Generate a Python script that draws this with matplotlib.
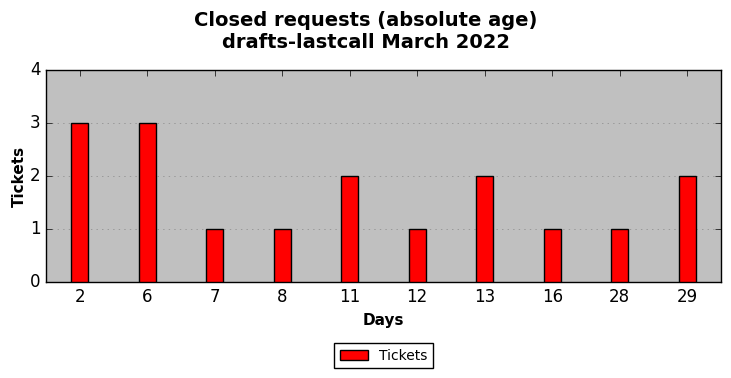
import matplotlib
matplotlib.use("Agg")
import matplotlib.pyplot as plt
import numpy as np

days = ["2", "6", "7", "8", "11", "12", "13", "16", "28", "29"]
tickets = [3, 3, 1, 1, 2, 1, 2, 1, 1, 2]

plt.style.use("classic")
fig = plt.figure(figsize=(7.31, 3.78), dpi=100)
ax = fig.add_axes([46/731, 1-282/378, (721-46)/731, (282-70)/378])
x = np.arange(len(days))
ax.bar(x, tickets, width=0.25, color="red", edgecolor="black", align="center", label="Tickets", zorder=3)
ax.set_facecolor("#c0c0c0")
ax.set_xlim(-0.5, len(days)-0.5)
ax.set_ylim(0, 4)
ax.set_yticks([0, 1, 2, 3, 4])
ax.set_xticks(x)
ax.set_xticklabels(days, fontsize=12)
ax.tick_params(axis="y", labelsize=12)
ax.yaxis.grid(True, linestyle=":", color="#888888", zorder=0)
ax.set_axisbelow(True)
ax.set_xlabel("Days", fontsize=11, fontweight="bold")
ax.set_ylabel("Tickets", fontsize=11, fontweight="bold", labelpad=2)
fig.suptitle("Closed requests (absolute age)\ndrafts-lastcall March 2022", fontsize=14, fontweight="bold", y=0.97)
ax.legend(loc="upper center", bbox_to_anchor=(0.5, -0.255), fontsize=10, ncol=1)
fig.savefig("out.png", dpi=100)
